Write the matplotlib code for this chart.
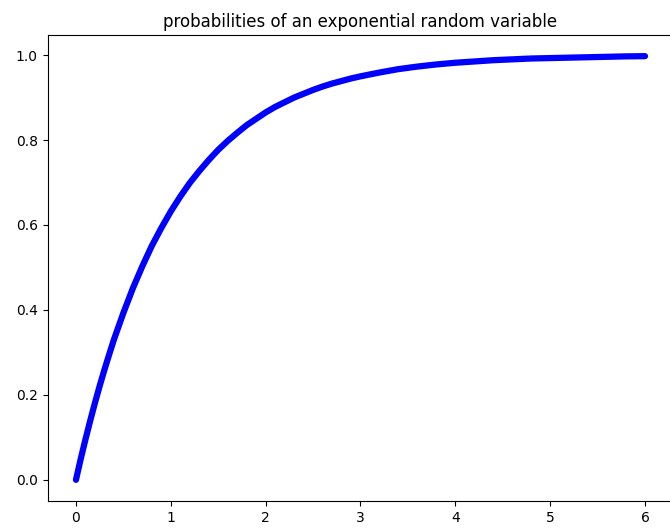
import matplotlib
matplotlib.use("Agg")
import matplotlib.pyplot as plt

# x positions and cumulative probabilities of the exponential curve
x_values = [0.0, 0.05, 0.1, 0.15, 0.2, 0.25, 0.3, 0.35, 0.4, 0.5, 0.6, 0.7, 0.8, 0.9, 1.0,
            1.1, 1.2, 1.3, 1.4, 1.5, 1.6, 1.7, 1.8, 1.9, 2.0,
            2.1, 2.2, 2.3, 2.4, 2.5, 2.6, 2.7, 2.8, 2.9, 3.0,
            3.2, 3.4, 3.6, 3.8, 4.0, 4.2, 4.4, 4.6, 4.8, 5.0,
            5.2, 5.4, 5.6, 5.8, 6.0]
probabilities = [0.0, 0.049, 0.095, 0.139, 0.181, 0.221, 0.259, 0.295, 0.330, 0.393, 0.451,
                 0.503, 0.551, 0.593, 0.632,
                 0.667, 0.699, 0.727, 0.753, 0.777, 0.798, 0.817, 0.835, 0.850, 0.865,
                 0.878, 0.889, 0.900, 0.909, 0.918, 0.926, 0.933, 0.939, 0.945, 0.950,
                 0.959, 0.967, 0.973, 0.978, 0.982, 0.985, 0.988, 0.990, 0.992, 0.993,
                 0.994, 0.995, 0.996, 0.997, 0.9975]

fig = plt.figure(figsize=(6.7, 5.3), dpi=100)
ax = fig.add_axes([0.0709, 0.0547, 0.9343, 0.8793])
ax.plot(x_values, probabilities, color="blue", linewidth=4.5,
        solid_capstyle="round", solid_joinstyle="round")
ax.set_title("probabilities of an exponential random variable")

fig.savefig("out.png", dpi=100)
